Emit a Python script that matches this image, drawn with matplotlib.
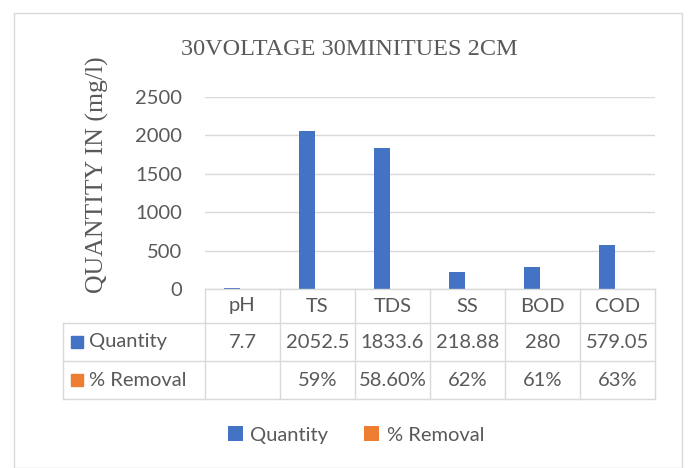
import matplotlib.pyplot as plt
import matplotlib.transforms as mtransforms
from matplotlib.patches import Rectangle
import numpy as np

categories = ['pH', 'TS', 'TDS', 'SS', 'BOD', 'COD']
quantity = [7.7, 2052.5, 1833.6, 218.88, 280, 579.05]
removal = [np.nan, 0.59, 0.586, 0.62, 0.61, 0.63]
quantity_labels = ['7.7', '2052.5', '1833.6', '218.88', '280', '579.05']
removal_labels = ['', '59%', '58.60%', '62%', '61%', '63%']
series_names = ['Quantity', '% Removal']

blue = '#4472C4'
orange = '#ED7D31'
grey_txt = '#595959'
grid_col = '#D9D9D9'
sans = 'Lato'
serif = 'Liberation Serif'
fs = 14.5

W, H = 690, 468
fig = plt.figure(figsize=(W / 100, H / 100), dpi=100)

# chart border
fig.patches.append(Rectangle((14 / W, 0), 668 / W, 455 / H, transform=fig.transFigure,
                             fill=False, edgecolor='#D9D9D9', lw=1))

ax = fig.add_axes([205 / W, (H - 289) / H, 450 / W, 192 / H])
x = np.arange(len(categories))
w = 0.21
b1 = ax.bar(x - 0.14, quantity, w, color=blue, label=series_names[0], zorder=3)
b2 = ax.bar(x - 0.14 + w, removal, w, color=orange, label=series_names[1], zorder=3)

ax.set_xlim(-0.5, len(categories) - 0.5)
ax.set_ylim(0, 2500)
ax.set_yticks(range(0, 2501, 500))
ax.yaxis.grid(True, color=grid_col, lw=1)
ax.set_axisbelow(True)
for s in ax.spines.values():
    s.set_visible(False)
ax.tick_params(axis='y', length=0, pad=16.5, labelsize=fs, labelcolor=grey_txt)
for t in ax.get_yticklabels():
    t.set_fontfamily(sans)
ax.set_xticks([])

ax.set_title('30VOLTAGE 30MINITUES 2CM', fontfamily=serif, fontsize=17.5,
             color=grey_txt, pad=30, x=0.32)
fig.text(97 / W, (H - 175) / H, 'QUANTITY IN (mg/l)', rotation=90, ha='center',
         va='center', fontfamily=serif, fontsize=18.5, color=grey_txt)

# data table below the axis
tr = mtransforms.blended_transform_factory(ax.transData, ax.transAxes)
px = 192.0
y_rows = [0, -34 / px, -72 / px, -110 / px]
x_left = -0.5 - 142 / 75
n = len(categories)
lk = dict(color=grid_col, lw=1, transform=tr, clip_on=False, zorder=1)
ax.plot([-0.5, n - 0.5], [0, 0], **dict(lk, zorder=4))
for yy in y_rows[1:]:
    ax.plot([x_left, n - 0.5], [yy, yy], **lk)
for k in range(n + 1):
    ax.plot([k - 0.5, k - 0.5], [0, y_rows[-1]], **lk)
ax.plot([x_left, x_left], [y_rows[1], y_rows[-1]], **lk)

tk = dict(transform=tr, ha='center', va='center', fontsize=fs,
          color=grey_txt, fontfamily=sans, clip_on=False)
rows = [categories, quantity_labels, removal_labels]
for r, labels in enumerate(rows):
    yc = (y_rows[r] + y_rows[r + 1]) / 2
    for i, lab in enumerate(labels):
        ax.text(i, yc, lab, **tk)

for r, (name, col) in enumerate(zip(series_names, [blue, orange])):
    yc = (y_rows[r + 1] + y_rows[r + 2]) / 2
    ax.add_patch(Rectangle((x_left + 8 / 75, yc - 6 / px), 12 / 75, 12 / px,
                           transform=tr, color=col, clip_on=False))
    ax.text(x_left + 26 / 75, yc, name, transform=tr, ha='left', va='center',
            fontsize=fs, color=grey_txt, fontfamily=sans, clip_on=False)

leg = fig.legend(handles=[b1, b2], loc='center', bbox_to_anchor=(356 / W, (H - 435) / H),
                 ncol=2, frameon=False, handlelength=0.75, handleheight=0.75,
                 handletextpad=0.35, columnspacing=1.8,
                 prop={'family': sans, 'size': fs})
for t in leg.get_texts():
    t.set_color(grey_txt)

fig.savefig('out.png', dpi=100)
